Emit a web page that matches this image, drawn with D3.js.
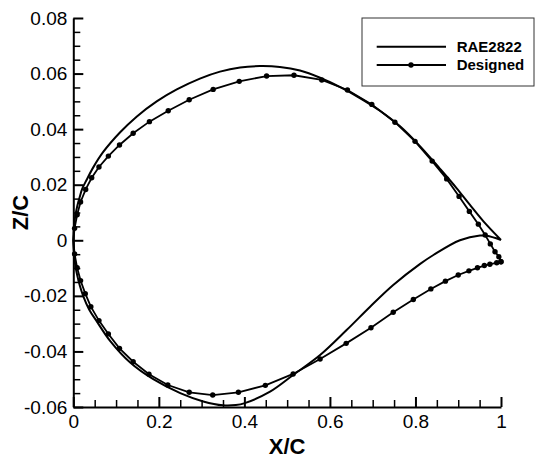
<!DOCTYPE html>
<html>
<head>
<meta charset="utf-8">
<script src="https://cdn.jsdelivr.net/npm/d3@7"></script>
<style>
  body { margin: 0; background: #fff; }
  svg { display: block; font-family: "Liberation Sans", Arial, sans-serif; }
</style>
</head>
<body>
<svg id="chart"></svg>
<script>
// DATA
const raeUpperX = [0, 0.0024, 0.0054, 0.0096, 0.015, 0.021, 0.031, 0.048, 0.070, 0.109, 0.148, 0.195, 0.242, 0.296, 0.343, 0.390, 0.436, 0.483, 0.530, 0.577, 0.624, 0.670, 0.717, 0.764, 0.811, 0.857, 0.896, 0.927, 0.959, 1.0];
const raeUpperY = [0, 0.0063, 0.0094, 0.0125, 0.0156, 0.0186, 0.0217, 0.0266, 0.0318, 0.0388, 0.0445, 0.0500, 0.0543, 0.0582, 0.0607, 0.0622, 0.0627, 0.0624, 0.0611, 0.0585, 0.0551, 0.0512, 0.0466, 0.0410, 0.0338, 0.0258, 0.0188, 0.0128, 0.0068, 0.0001];
const raeLowerX = [0, 0.0024, 0.0054, 0.0096, 0.015, 0.023, 0.037, 0.055, 0.086, 0.133, 0.187, 0.250, 0.304, 0.350, 0.380, 0.401, 0.460, 0.514, 0.577, 0.639, 0.694, 0.748, 0.811, 0.842, 0.904, 0.951, 0.967, 1.0];
const raeLowerY = [0, -0.0063, -0.0096, -0.0129, -0.0162, -0.0200, -0.0249, -0.0292, -0.0362, -0.0440, -0.0500, -0.0550, -0.0580, -0.0594, -0.0593, -0.0586, -0.0545, -0.0485, -0.0413, -0.0323, -0.0239, -0.0161, -0.0085, -0.0053, 0.0000, 0.0017, 0.0016, 0.0001];

const desUpperX = [0, 0.003, 0.009, 0.017, 0.029, 0.043, 0.060, 0.082, 0.108, 0.140, 0.178, 0.222, 0.271, 0.327, 0.388, 0.452, 0.516, 0.581, 0.641, 0.698, 0.752, 0.799, 0.839, 0.873, 0.902, 0.926, 0.947, 0.963, 0.975, 0.986, 0.995, 1.0];
const desUpperY = [0, 0.0043, 0.0092, 0.0138, 0.0183, 0.0225, 0.0264, 0.0303, 0.0343, 0.0385, 0.0427, 0.0466, 0.0506, 0.0543, 0.0572, 0.0591, 0.0594, 0.0577, 0.0541, 0.0489, 0.0425, 0.0356, 0.0285, 0.0221, 0.0158, 0.0104, 0.0058, 0.0019, -0.0013, -0.0041, -0.0059, -0.0077];
const desLowerX = [0, 0.003, 0.009, 0.017, 0.028, 0.041, 0.060, 0.082, 0.108, 0.140, 0.177, 0.221, 0.271, 0.326, 0.386, 0.449, 0.514, 0.577, 0.638, 0.696, 0.748, 0.795, 0.836, 0.870, 0.900, 0.925, 0.945, 0.961, 0.974, 0.990, 1.0];
const desLowerY = [0, -0.0049, -0.0099, -0.0145, -0.0192, -0.0239, -0.0289, -0.0337, -0.0389, -0.0437, -0.0482, -0.0521, -0.0547, -0.0557, -0.0547, -0.0522, -0.0481, -0.0427, -0.0371, -0.0315, -0.0259, -0.0213, -0.0175, -0.0147, -0.0125, -0.0110, -0.0099, -0.0091, -0.0086, -0.0081, -0.0077];

const xTicks = [0, 0.2, 0.4, 0.6, 0.8, 1];
const yTicks = [-0.06, -0.04, -0.02, 0, 0.02, 0.04, 0.06, 0.08];
const seriesNames = ["RAE2822", "Designed"];

// LAYOUT
const W = 536, H = 460;
const margin = { top: 18, left: 73.3, right: 35, bottom: 53 };
const width = W - margin.left - margin.right;
const height = H - margin.top - margin.bottom;

const svg = d3.select('#chart').attr('width', W).attr('height', H);
const g = svg.append('g').attr('transform', `translate(${margin.left},${margin.top})`);

const xScale = d3.scaleLinear().domain([0, 1]).range([0, width]);
const yScale = d3.scaleLinear().domain([-0.06, 0.08]).range([height, 0]);

// minor ticks
const xMinor = d3.range(0, 1.0001, 0.05).filter(v => xTicks.every(t => Math.abs(t - v) > 1e-6));
const yMinor = d3.range(-0.06, 0.08001, 0.005).filter(v => yTicks.every(t => Math.abs(t - v) > 1e-6));

g.append('g').attr('class', 'minor')
  .attr('transform', `translate(0,${height})`)
  .call(d3.axisBottom(xScale).tickValues(xMinor).tickSize(-7).tickFormat(''));
g.append('g').attr('class', 'minor')
  .call(d3.axisLeft(yScale).tickValues(yMinor).tickSize(-7).tickFormat(''));
g.selectAll('.minor .domain').remove();
g.selectAll('.minor line').attr('stroke', '#000').attr('stroke-width', 1.5);

const xAxis = g.append('g')
  .attr('transform', `translate(0,${height})`)
  .call(d3.axisBottom(xScale).tickValues(xTicks).tickSizeInner(-10).tickSizeOuter(0).tickPadding(7)
    .tickFormat(d => String(d)));
const yAxis = g.append('g')
  .call(d3.axisLeft(yScale).tickValues(yTicks).tickSizeInner(-10).tickSizeOuter(0).tickPadding(6)
    .tickFormat(d => d === 0 ? '0' : d.toFixed(2)));

[xAxis, yAxis].forEach(ax => {
  ax.select('.domain').attr('stroke', '#000').attr('stroke-width', 2);
  ax.selectAll('.tick line').attr('stroke', '#000').attr('stroke-width', 2);
  ax.selectAll('.tick text')
    .attr('fill', '#000')
    .style('font-size', '19px')
    .style('font-family', '"Liberation Sans", Arial, sans-serif');
});
xAxis.selectAll('.tick text').attr('y', 8).attr('dy', '0.71em');
yAxis.selectAll('.tick text').attr('x', -6);

// axis titles
svg.append('text')
  .attr('x', margin.left + width / 2)
  .attr('y', 454)
  .attr('text-anchor', 'middle')
  .style('font-weight', 'bold')
  .style('font-size', '22px')
  .text('X/C');
svg.append('text')
  .attr('transform', `translate(28,${margin.top + height / 2}) rotate(-90)`)
  .attr('text-anchor', 'middle')
  .style('font-weight', 'bold')
  .style('font-size', '22px')
  .text('Z/C');

// CURVES
function outline(ux, uy, lx, ly) {
  const up = ux.map((x, i) => [x, uy[i]]).reverse();
  const lo = lx.map((x, i) => [x, ly[i]]).slice(1);
  return up.concat(lo);
}
const raePts = outline(raeUpperX, raeUpperY, raeLowerX, raeLowerY);
const desPts = outline(desUpperX, desUpperY, desLowerX, desLowerY);

const smooth = d3.line().x(d => xScale(d[0])).y(d => yScale(d[1])).curve(d3.curveCatmullRom.alpha(0.5));
const straight = d3.line().x(d => xScale(d[0])).y(d => yScale(d[1]));

g.append('path').attr('d', smooth(raePts))
  .attr('fill', 'none').attr('stroke', '#000').attr('stroke-width', 2);
g.append('path').attr('d', straight(desPts))
  .attr('fill', 'none').attr('stroke', '#000').attr('stroke-width', 1.8);

const desMarkers = desPts.filter(d => !(d[0] === 0 && d[1] === 0));
g.selectAll('circle.des').data(desMarkers).enter().append('circle')
  .attr('class', 'des')
  .attr('cx', d => xScale(d[0])).attr('cy', d => yScale(d[1]))
  .attr('r', 2.7).attr('fill', '#000');

// LEGEND
const legend = svg.append('g').attr('transform', 'translate(362,18)');
legend.append('rect')
  .attr('width', 172).attr('height', 68)
  .attr('fill', '#fff').attr('stroke', '#333').attr('stroke-width', 1);
seriesNames.forEach((name, i) => {
  const y = 28.7 + i * 18.3;
  legend.append('line')
    .attr('x1', 14.7).attr('x2', 84).attr('y1', y).attr('y2', y)
    .attr('stroke', '#000').attr('stroke-width', i === 0 ? 2 : 1.8);
  if (i === 1) {
    legend.append('circle').attr('cx', 49).attr('cy', y).attr('r', 2.7).attr('fill', '#000');
  }
  legend.append('text')
    .attr('x', 94.7).attr('y', y + 5)
    .style('font-weight', 'bold')
    .style('font-size', '15px')
    .text(name);
});
</script>
</body>
</html>
